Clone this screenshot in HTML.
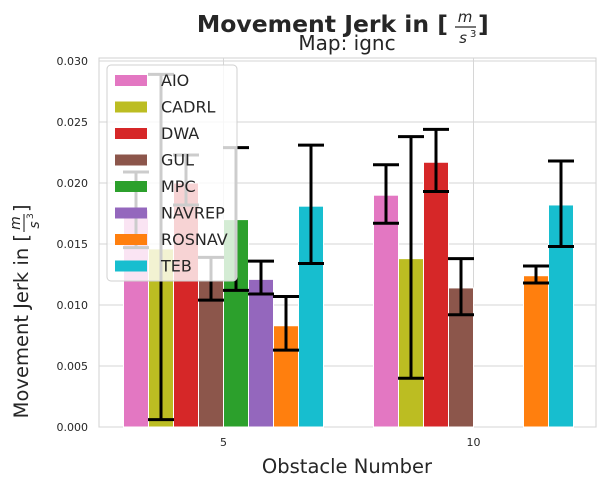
<!DOCTYPE html>
<html><head><meta charset="utf-8"><style>
body{margin:0;background:#fff;font-family:"Liberation Sans","DejaVu Sans",sans-serif;}
</style></head><body>
<svg width="605" height="486" xmlns="http://www.w3.org/2000/svg" font-family="DejaVu Sans, Liberation Sans, sans-serif">
<g>
<text x="448" y="32" text-anchor="end" font-size="23.5" font-weight="bold" fill="#262626">Movement Jerk in [</text>
<text x="465" y="22" text-anchor="middle" font-size="15" font-style="italic" fill="#262626">m</text>
<line x1="455" y1="27" x2="476" y2="27" stroke="#262626" stroke-width="1.3"/>
<text x="463" y="43" text-anchor="middle" font-size="15" font-style="italic" fill="#262626">s</text>
<text x="470" y="37" font-size="10" fill="#262626">3</text>
<text x="478" y="32" font-size="23.5" font-weight="bold" fill="#262626">]</text>
</g>
<text x="347" y="50" text-anchor="middle" font-size="20" fill="#262626">Map: ignc</text>
<g id="plot"></g>
<text x="347" y="473" text-anchor="middle" font-size="19.5" fill="#262626">Obstacle Number</text>
<g transform="translate(28,242) rotate(-90)">
<text x="8" y="0" text-anchor="end" font-size="19.5" fill="#262626">Movement Jerk in [</text>
<text x="19" y="-8" text-anchor="middle" font-size="14" font-style="italic" fill="#262626">m</text>
<line x1="10" y1="-4" x2="28" y2="-4" stroke="#262626" stroke-width="1.1"/>
<text x="17" y="11" text-anchor="middle" font-size="14" font-style="italic" fill="#262626">s</text>
<text x="23" y="5" font-size="9" fill="#262626">3</text>
<text x="30" y="0" font-size="19.5" fill="#262626">]</text>
</g>
</svg>
<script>
const categories=["5","10"];
const series=["AIO","CADRL","DWA","GUL","MPC","NAVREP","ROSNAV","TEB"];
const colors=["#e377c2","#bcbd22","#d62728","#8c564b","#2ca02c","#9467bd","#ff7f0e","#17becf"];
const values5=[0.0178,0.0146,0.0200,0.0120,0.0170,0.0121,0.0083,0.0181];
const lo5=[0.0147,0.0006,0.0182,0.0104,0.0112,0.0109,0.0063,0.0134];
const hi5=[0.0209,0.0289,0.0223,0.0139,0.0229,0.0136,0.0107,0.0231];
const values10=[0.0190,0.0138,0.0217,0.0114,null,null,0.0124,0.0182];
const lo10=[0.0167,0.0040,0.0193,0.0092,null,null,0.0118,0.0148];
const hi10=[0.0215,0.0238,0.0244,0.0138,null,null,0.0132,0.0218];
const yTicks=[0,0.005,0.010,0.015,0.020,0.025,0.030];
const yTickLabels=["0.000","0.005","0.010","0.015","0.020","0.025","0.030"];
const L=99,R=596,T=58,B=427;
const y=v=>B-v/0.030*(B-61);
const xc=i=>223.5+i*250;
const ns="http://www.w3.org/2000/svg";
const g=document.getElementById('plot');
function mk(t,a,p){const e=document.createElementNS(ns,t);for(const k in a)e.setAttribute(k,a[k]);(p||g).appendChild(e);return e;}
const bg=mk('rect',{x:L,y:T,width:R-L,height:B-T,fill:'#fff',stroke:'#d0d0d0','stroke-width':1});


yTicks.forEach((t,i)=>{
 const gl=mk('line',{x1:L,x2:R,y1:y(t),y2:y(t),stroke:'#d6d6d6','stroke-width':1});
 
 
 const tx=mk('text',{x:88,y:y(t)+4,'text-anchor':'end','font-size':11,fill:'#262626'});
 tx.textContent=yTickLabels[i];
 
 
});
categories.forEach((c,i)=>{
 const gl=mk('line',{x1:xc(i),x2:xc(i),y1:T,y2:B,stroke:'#d6d6d6','stroke-width':1});
 
 
 const tx=mk('text',{x:xc(i),y:446,'text-anchor':'middle','font-size':11,fill:'#262626'});
 tx.textContent=c;
 
 
});
const bw=25;
const data=[[values5,lo5,hi5],[values10,lo10,hi10]];
data.forEach((d,ci)=>{
 series.forEach((s,si)=>{
  const v=d[0][si]; if(v==null) return;
  const cx=xc(ci)+(si-3.5)*bw;
  const r=mk('rect',{x:cx-bw/2,y:y(v),width:bw,height:B-y(v),fill:colors[si],stroke:'#fff','stroke-width':1});
  
  
 });
 series.forEach((s,si)=>{
  const v=d[0][si]; if(v==null) return;
  const cx=xc(ci)+(si-3.5)*bw;
  const eg=mk('g',{stroke:'#000','stroke-width':3});
  
  
  mk('line',{x1:cx,x2:cx,y1:y(d[1][si]),y2:y(d[2][si])},eg);
  mk('line',{x1:cx-13,x2:cx+13,y1:y(d[1][si]),y2:y(d[1][si])},eg);
  mk('line',{x1:cx-13,x2:cx+13,y1:y(d[2][si]),y2:y(d[2][si])},eg);
 });
});
const lg=mk('g',{});


mk('rect',{x:107,y:65,width:130,height:216,rx:4,fill:'#fff','fill-opacity':0.8,stroke:'#d0d0d0','stroke-width':1},lg);
series.forEach((s,i)=>{
 const e=mk('g',{},lg);
 
 
 const cy=80+i*26.5;
 mk('rect',{x:115,y:cy-5,width:32,height:11,fill:colors[i]},e);
 const t=mk('text',{x:161,y:cy+6,'font-size':16,fill:'#262626'},e);
 t.textContent=s;
});
</script>
</body></html>
